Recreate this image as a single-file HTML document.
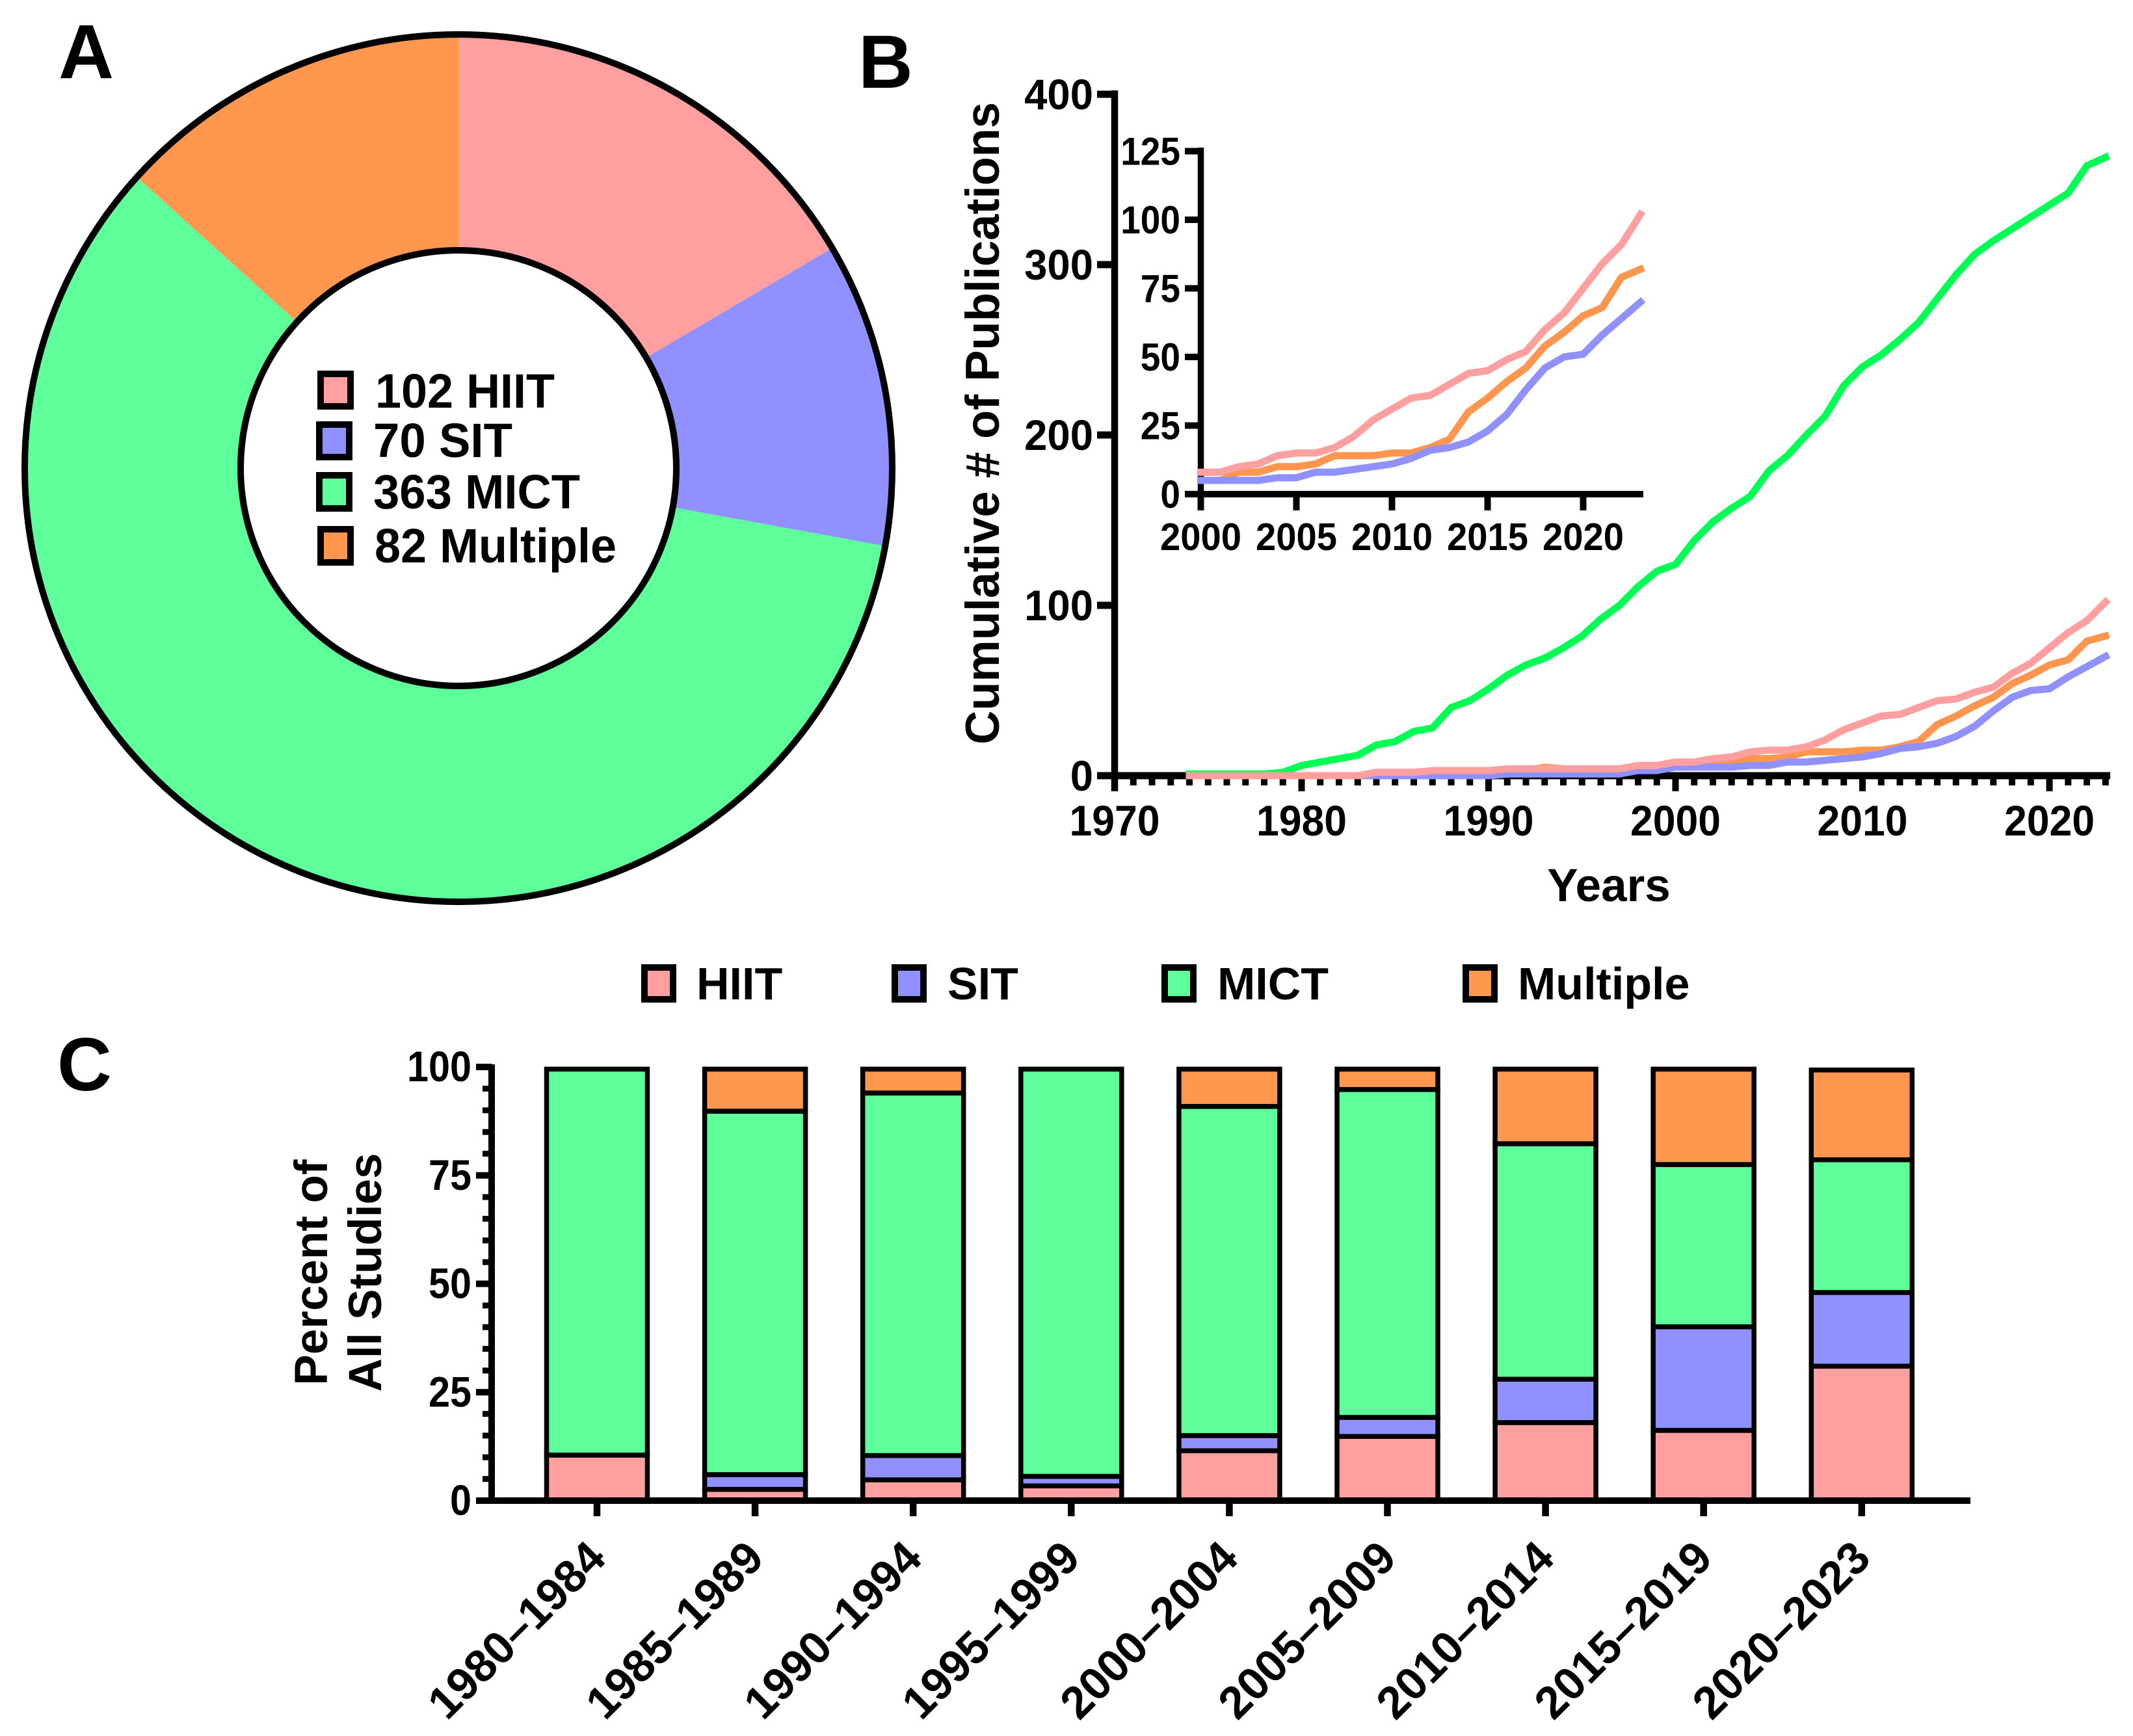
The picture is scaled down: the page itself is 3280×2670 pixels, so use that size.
<!DOCTYPE html>
<html lang="en">
<head>
<meta charset="utf-8">
<title>Exercise training publications by type</title>
<style>
html,body{margin:0;padding:0;background:#fff;width:3280px;height:2670px;overflow:hidden}
svg{display:block}
text{font-family:"Liberation Sans",Arial,sans-serif;font-weight:700;fill:#000}
</style>
</head>
<body>
<svg id="figure" xmlns="http://www.w3.org/2000/svg" width="3280" height="2670" viewBox="0 0 3280 2670">
  <rect x="0" y="0" width="3280" height="2670" fill="#fff"/>
  <text x="90" y="120" font-size="118">A</text>
  <text x="1320" y="135" font-size="116">B</text>
  <text x="88" y="1677" font-size="116">C</text>

  <g id="donut"></g>
  <g>
    <rect x="493" y="575" width="46" height="50" fill="#FF9F9F" stroke="#000" stroke-width="10"/>
    <text x="577" y="627" font-size="74" textLength="276" lengthAdjust="spacingAndGlyphs">102 HIIT</text>
    <rect x="491" y="653" width="46" height="50" fill="#9090FF" stroke="#000" stroke-width="10"/>
    <text x="574" y="703" font-size="74" textLength="214" lengthAdjust="spacingAndGlyphs">70 SIT</text>
    <rect x="491" y="731" width="46" height="51" fill="#5EFF9A" stroke="#000" stroke-width="10"/>
    <text x="574" y="782" font-size="74" textLength="318" lengthAdjust="spacingAndGlyphs">363 MICT</text>
    <rect x="493" y="814" width="46" height="51" fill="#FF974F" stroke="#000" stroke-width="10"/>
    <text x="576" y="865" font-size="74" textLength="372" lengthAdjust="spacingAndGlyphs">82 Multiple</text>
  </g>

  <g id="line-main"></g>
  <text transform="translate(1536,651) rotate(-90)" text-anchor="middle" font-size="73" textLength="988" lengthAdjust="spacingAndGlyphs">Cumulative # of Publications</text>
  <text x="2474" y="1386" text-anchor="middle" font-size="71">Years</text>
  <g id="line-inset"></g>

  <g>
    <rect x="991" y="1488" width="44" height="49" fill="#FF9F9F" stroke="#000" stroke-width="10"/>
    <text x="1071" y="1537" font-size="70">HIIT</text>
    <rect x="1376" y="1488" width="44" height="49" fill="#9090FF" stroke="#000" stroke-width="10"/>
    <text x="1457" y="1537" font-size="70">SIT</text>
    <rect x="1791" y="1488" width="44" height="49" fill="#5EFF9A" stroke="#000" stroke-width="10"/>
    <text x="1872" y="1537" font-size="70">MICT</text>
    <rect x="2254" y="1488" width="44" height="49" fill="#FF974F" stroke="#000" stroke-width="10"/>
    <text x="2334" y="1537" font-size="70">Multiple</text>
  </g>
  <g id="bars"></g>
  <text transform="translate(503,1957) rotate(-90)" text-anchor="middle" font-size="71">Percent of</text>
  <text transform="translate(586,1957) rotate(-90)" text-anchor="middle" font-size="71">All Studies</text>
</svg>
<script>
// Donut data
const donutCounts = [102, 70, 363, 82];
const donutColors = ['#FF9F9F', '#9090FF', '#5EFF9A', '#FF974F'];

// Line chart data, one value per year from firstYear
const firstYear = 1974;
const mictCumulative = [1,1,1,1,1,2,6,8,10,12,18,20,26,28,40,44,51,59,65,69,75,82,92,100,111,120,124,138,149,157,164,179,188,200,211,229,240,247,256,266,280,294,306,314,321,328,335,342,358,363];
const multipleCumulative = [0,0,0,0,0,0,0,0,0,0,1,1,1,2,2,2,2,3,3,5,4,4,4,4,4,4,5,5,8,8,10,10,11,14,14,14,15,15,17,20,30,35,41,46,54,59,65,68,79,82];
const sitCumulative = [0,0,0,0,0,0,0,0,0,0,0,0,0,0,0,0,0,1,1,1,1,1,1,1,3,3,5,5,5,5,6,6,8,8,9,10,11,13,16,17,19,23,29,38,46,50,51,58,64,70];
const hiitCumulative = [0,0,0,0,0,0,0,0,0,0,2,2,2,3,3,3,3,4,4,4,4,4,4,4,6,6,8,8,10,11,14,15,15,17,21,27,31,35,36,40,44,45,49,52,60,66,75,84,91,102];

const mainYTicks = [0, 100, 200, 300, 400];
const mainXTicks = [1970, 1980, 1990, 2000, 2010, 2020];
const insetYTicks = [0, 25, 50, 75, 100, 125];
const insetXTicks = [2000, 2005, 2010, 2015, 2020];

// Stacked bar data (percent of studies)
const barCategories = ['1980–1984','1985–1989','1990–1994','1995–1999','2000–2004','2005–2009','2010–2014','2015–2019','2020–2023'];
const barHiit = [10.5, 2.6, 4.8, 3.4, 11.5, 14.8, 18, 16.2, 31];
const barSit = [0, 3.4, 5.6, 2.2, 3.5, 4.4, 10, 23.9, 17];
const barMict = [89, 83.8, 83.6, 93.9, 75.9, 75.6, 54.3, 37.4, 30.6];
const barMultiple = [0, 9.7, 5.5, 0, 8.6, 4.7, 17.2, 22, 20.7];
const barYTicks = [0, 25, 50, 75, 100];

const NS = 'http://www.w3.org/2000/svg';
function mk(parent, tag, attrs, content) {
  const el = document.createElementNS(NS, tag);
  for (const k in attrs) el.setAttribute(k, attrs[k]);
  if (content !== undefined) el.textContent = content;
  parent.appendChild(el);
  return el;
}
function line(parent, x1, y1, x2, y2, w) {
  return mk(parent, 'line', {x1: x1, y1: y1, x2: x2, y2: y2, stroke: '#000', 'stroke-width': w});
}

/* ---------- Donut ---------- */
(function () {
  const g = document.getElementById('donut');
  const cx = 705, cy = 720, rOut = 667, rIn = 335;
  const total = donutCounts.reduce((a, b) => a + b, 0);
  const pt = (r, frac) => {
    const a = frac * 2 * Math.PI;
    return [cx + r * Math.sin(a), cy - r * Math.cos(a)];
  };
  const sliceNames = ['slice-hiit', 'slice-sit', 'slice-mict', 'slice-multiple'];
  let acc = 0;
  donutCounts.forEach((v, i) => {
    const f0 = acc / total;
    acc += v;
    const f1 = acc / total;
    const large = f1 - f0 > 0.5 ? 1 : 0;
    const a = pt(rOut, f0), b = pt(rOut, f1), c = pt(rIn, f1), d = pt(rIn, f0);
    const p = mk(g, 'path', {
      d: `M${a[0]} ${a[1]}A${rOut} ${rOut} 0 ${large} 1 ${b[0]} ${b[1]}L${c[0]} ${c[1]}A${rIn} ${rIn} 0 ${large} 0 ${d[0]} ${d[1]}Z`,
      fill: donutColors[i]
    });
    
    
  });
  const outer = mk(g, 'circle', {cx: cx, cy: cy, r: rOut, fill: 'none', stroke: '#000', 'stroke-width': 10});
  
  
  const inner = mk(g, 'circle', {cx: cx, cy: cy, r: rIn, fill: '#fff', stroke: '#000', 'stroke-width': 10});
  
  
})();

/* ---------- Line charts ---------- */
const seriesDefs = [
  {name: 'mict', values: mictCumulative, color: '#00FF55'},
  {name: 'multiple', values: multipleCumulative, color: '#FF964F'},
  {name: 'sit', values: sitCumulative, color: '#9090FF'},
  {name: 'hiit', values: hiitCumulative, color: '#FF9FA0'}
];
const mainX = y => 1714 + (y - 1970) * 28.75;
const mainY = v => 1193 - v * 2.62;
const insetX = y => 1846.5 + (y - 2000) * 29.4;
const insetY = v => 760 - v * 4.22;

function seriesPoints(values, xFn, yFn, fromYear) {
  const pts = [];
  values.forEach((v, i) => {
    const yr = firstYear + i;
    if (yr >= fromYear) pts.push(xFn(yr).toFixed(1) + ',' + yFn(v).toFixed(1));
  });
  return pts.join(' ');
}

(function () {
  const g = document.getElementById('line-main');
  const yAxis = line(g, 1714, 139, 1714, 1217, 10.5);
  
  
  const xAxis = line(g, 1687, 1193, 3245, 1193, 11);
  
  
  mainYTicks.forEach(t => {
    const tick = line(g, 1687, mainY(t), 1714, mainY(t), 11);
    
    
    const lab = mk(g, 'text', {x: 1681, y: mainY(t) + 23, 'text-anchor': 'end', 'font-size': 66, textLength: String(t).length * 35.3, lengthAdjust: 'spacingAndGlyphs'}, String(t));
    
    
  });
  for (let yr = 1970; yr <= 2023; yr++) {
    const major = mainXTicks.indexOf(yr) >= 0;
    const tick = line(g, mainX(yr), 1193, mainX(yr), major ? 1217 : 1208, 10);
    
    
  }
  mainXTicks.forEach(t => {
    const lab = mk(g, 'text', {x: mainX(t), y: 1285, 'text-anchor': 'middle', 'font-size': 66, textLength: 139, lengthAdjust: 'spacingAndGlyphs'}, String(t));
    
    
  });
  seriesDefs.forEach(s => {
    const pl = mk(g, 'polyline', {points: seriesPoints(s.values, mainX, mainY, firstYear), fill: 'none', stroke: s.color, 'stroke-width': 11, 'stroke-linecap': 'square'});
    
    
  });
})();

(function () {
  const g = document.getElementById('line-inset');
  const yAxis = line(g, 1846.5, 227, 1846.5, 785, 9.5);
  
  
  const xAxis = line(g, 1822, 760, 2527, 760, 10);
  
  
  insetYTicks.forEach(t => {
    const tick = line(g, 1822, insetY(t), 1846, insetY(t), 10);
    
    
    const lab = mk(g, 'text', {x: 1815, y: insetY(t) + 21, 'text-anchor': 'end', 'font-size': 60, textLength: String(t).length * 30.6, lengthAdjust: 'spacingAndGlyphs'}, String(t));
    
    
  });
  insetXTicks.forEach(t => {
    const tick = line(g, insetX(t), 760, insetX(t), 785, 10);
    
    
    const lab = mk(g, 'text', {x: insetX(t), y: 846, 'text-anchor': 'middle', 'font-size': 59, textLength: 125, lengthAdjust: 'spacingAndGlyphs'}, String(t));
    
    
  });
  seriesDefs.filter(s => s.name !== 'mict').forEach(s => {
    const pl = mk(g, 'polyline', {points: seriesPoints(s.values, insetX, insetY, 2000), fill: 'none', stroke: s.color, 'stroke-width': 11, 'stroke-linecap': 'square'});
    
    
  });
})();

/* ---------- Stacked bars ---------- */
const barX = i => 918 + i * 243.1;
const barY = v => 2308 - v * 6.67;
const barWidth = 155;

(function () {
  const g = document.getElementById('bars');
  const stacks = [
    {name: 'hiit', values: barHiit, color: '#FF9F9F'},
    {name: 'sit', values: barSit, color: '#9090FF'},
    {name: 'mict', values: barMict, color: '#5EFF9A'},
    {name: 'multiple', values: barMultiple, color: '#FF974F'}
  ];
  barCategories.forEach((cat, i) => {
    let base = 0;
    stacks.forEach(s => {
      const v = s.values[i];
      if (v > 0) {
        const r = mk(g, 'rect', {
          x: barX(i) - barWidth / 2, y: barY(base + v),
          width: barWidth, height: barY(base) - barY(base + v),
          fill: s.color, stroke: '#000', 'stroke-width': 7.5
        });
        
        
      }
      base += v;
    });
    const tick = line(g, barX(i), 2308, barX(i), 2332, 10.5);
    
    
    const lab = mk(g, 'text', {
      transform: `translate(${barX(i) + 17},2400) rotate(-45)`,
      'text-anchor': 'end', 'font-size': 70
    }, cat);
    
    
  });
  const yAxis = line(g, 756, 1637, 756, 2313, 10);
  
  
  const xAxis = line(g, 732, 2308, 3030, 2308, 10);
  
  
  for (let v = 0; v <= 100; v += 5) {
    const major = barYTicks.indexOf(v) >= 0;
    const tick = line(g, major ? 732 : 742, barY(v), 756, barY(v), major ? 10 : 9);
    
    
  }
  barYTicks.forEach(t => {
    const lab = mk(g, 'text', {x: 725, y: barY(t) + 22, 'text-anchor': 'end', 'font-size': 66, textLength: String(t).length * 33, lengthAdjust: 'spacingAndGlyphs'}, String(t));
    
    
  });
})();
</script>
</body>
</html>
